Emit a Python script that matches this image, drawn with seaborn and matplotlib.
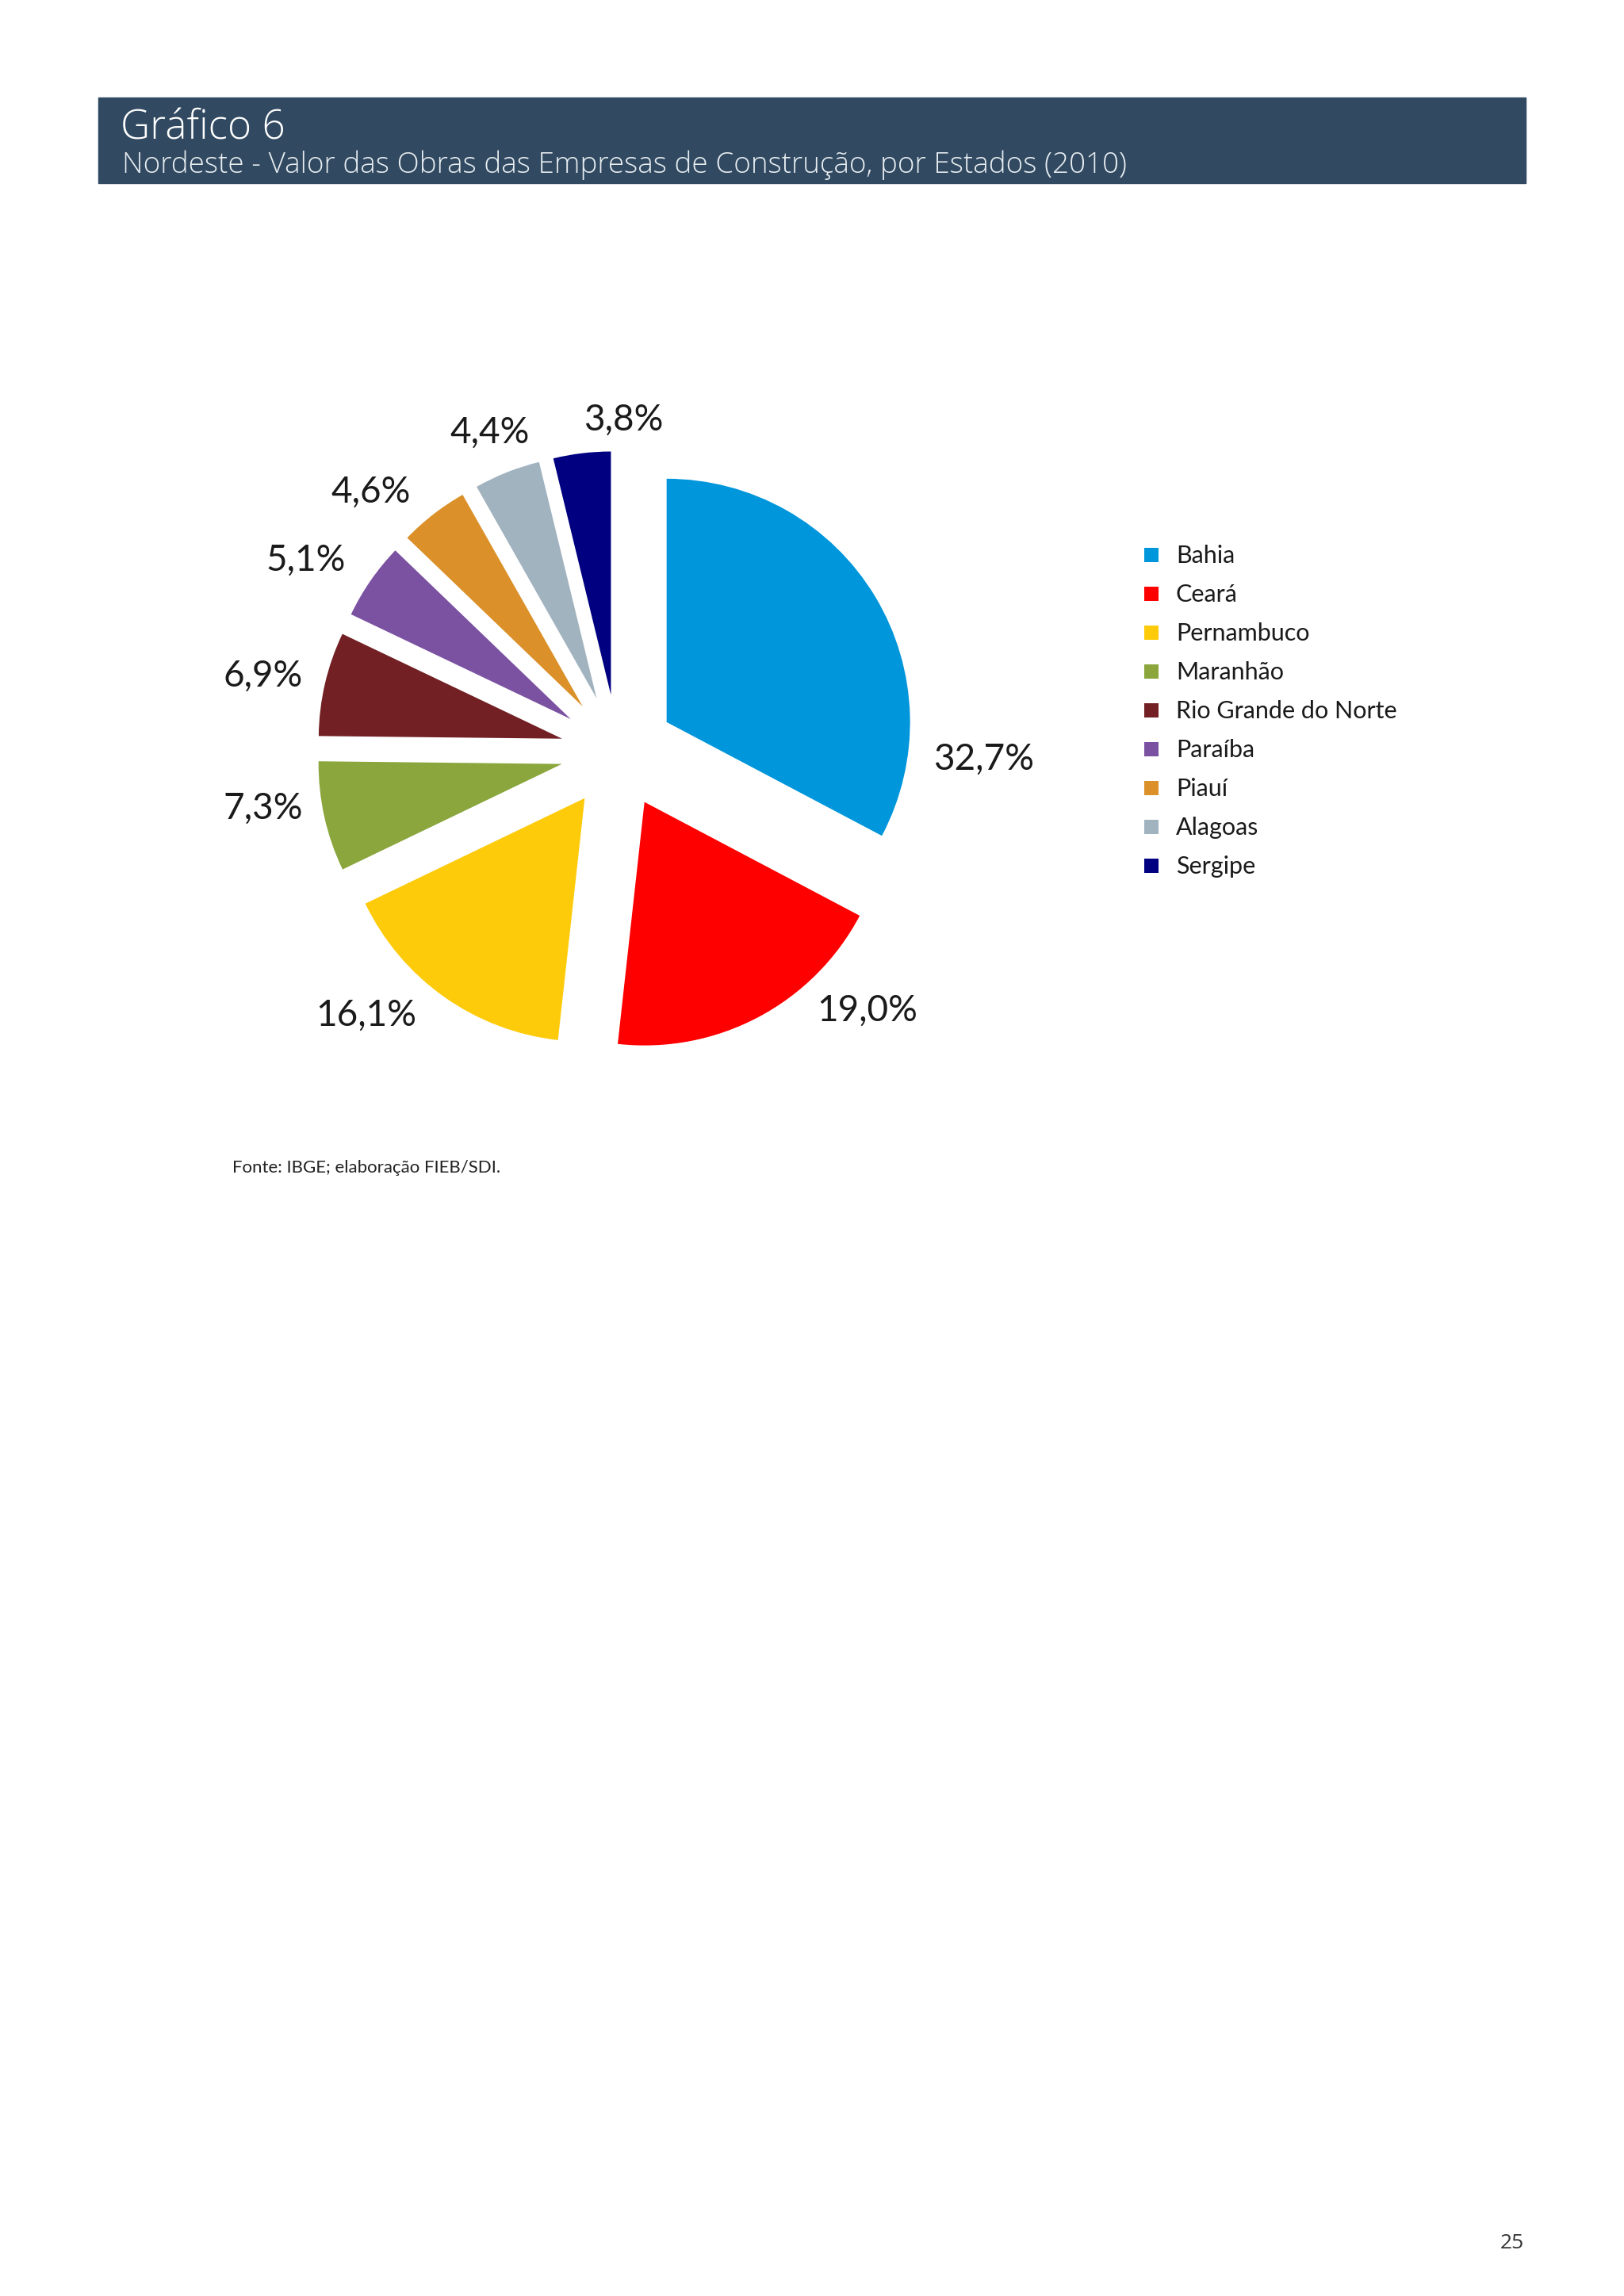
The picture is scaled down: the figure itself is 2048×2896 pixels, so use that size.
import matplotlib
matplotlib.use("Agg")
import matplotlib.pyplot as plt
from matplotlib.patches import Rectangle
import seaborn as sns

# data
STATES = ["Bahia", "Ceará", "Pernambuco", "Maranhão", "Rio Grande do Norte",
          "Paraíba", "Piauí", "Alagoas", "Sergipe"]
SHARES = [32.7, 19.0, 16.1, 7.3, 6.9, 5.1, 4.6, 4.4, 3.8]
COLORS = ["#0096db", "#ff0000", "#fecb0b", "#8aa63d", "#722024",
          "#7b52a1", "#db9029", "#a2b3c0", "#000080"]

TITLE = "Gráfico 6"
SUBTITLE = "Nordeste - Valor das Obras das Empresas de Construção, por Estados (2010)"
SOURCE = "Fonte: IBGE; elaboração FIEB/SDI."
PAGE = "25"

# layout, in page pixels (y measured from the top)
W, H = 2048, 2896
PIE_CENTER = (779, 948)
PIE_RADIUS = 307
EXPLODE = 72
# label anchors (x centre, baseline)
LABEL_XY = [(1241, 971), (1094, 1288), (462, 1294), (332, 1033), (332, 866),
            (386, 720), (468, 634), (618, 559), (786, 543)]


def up(y):
    return H - y


sns.set_style("white")
plt.rcParams["font.family"] = ["Lato", "DejaVu Sans"]
HEAD_FONT = ["Open Sans", "Lato", "DejaVu Sans"]

fig = plt.figure(figsize=(W / 100, H / 100), dpi=100)
fig.patch.set_facecolor("white")
ax = fig.add_axes([0, 0, 1, 1])

pal = sns.color_palette(COLORS)
ax.pie(SHARES, colors=pal, startangle=90, counterclock=False,
       center=(PIE_CENTER[0], up(PIE_CENTER[1])), radius=PIE_RADIUS,
       explode=[EXPLODE] * len(SHARES), wedgeprops={"linewidth": 0})

for v, (x, y) in zip(SHARES, LABEL_XY):
    ax.text(x, up(y), f"{v:.1f}%".replace(".", ","), ha="center", va="baseline",
            fontsize=33, color="#1a1a1a")

# legend drawn by hand to keep the page spacing
for i, (name, c) in enumerate(zip(STATES, pal)):
    yc = 700 + i * 49
    ax.scatter([1452], [up(yc)], marker="s", s=150, color=c, linewidths=0)
    ax.text(1483, up(yc + 10), name, ha="left", va="baseline", fontsize=22,
            color="#1a1a1a")

# header bar
ax.add_patch(Rectangle((124, up(231)), 1800, 108, color="#314a61", zorder=0))
ax.text(152, up(175), TITLE, ha="left", va="baseline", fontsize=37,
        color="white", family=HEAD_FONT, fontweight="light")
ax.text(154, up(218), SUBTITLE, ha="left", va="baseline", fontsize=26.6,
        color="#e8edf1", family=HEAD_FONT, fontweight="light")

ax.text(293, up(1479), SOURCE, ha="left", va="baseline", fontsize=16, color="#222222")
ax.text(1892, up(2836), PAGE, ha="left", va="baseline", fontsize=19, color="#333333",
        family=HEAD_FONT)

ax.set_xlim(0, W)
ax.set_ylim(0, H)
ax.set_aspect("auto")
ax.axis("off")

fig.savefig("out.png", dpi=100, facecolor="white")
